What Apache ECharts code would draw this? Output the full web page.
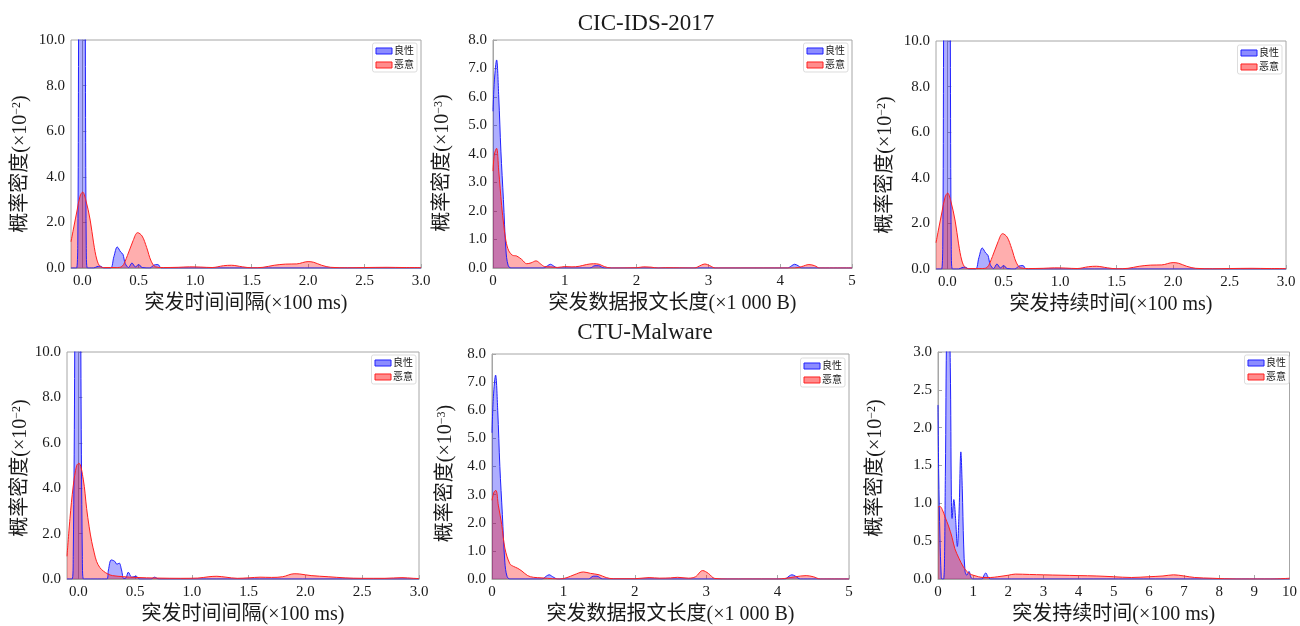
<!DOCTYPE html>
<html>
<head>
<meta charset="utf-8">
<script src="https://cdn.jsdelivr.net/npm/echarts@6/dist/echarts.min.js"></script>
<style>
  html, body { margin: 0; padding: 0; background: #fff; }
  #chart { width: 1300px; height: 626px; }
</style>
</head>
<body>
<div id="chart"></div>
<script>
// ===== 데이터 (x, 밀도) - 그림에서 읽은 값 =====

// CIC-IDS-2017 : 突发时间间隔 (×10^-2)
let cicGapBenign = [
  [-0.1, 0], [-0.06, 0], [-0.05, 0], [-0.04, 1], [-0.033, 10], [-0.02, 30], [0, 40], [0.015, 30],
  [0.027, 10], [0.035, 1], [0.045, 0], [0.1, 0], [0.13, 0.06], [0.16, 0.08], [0.19, 0], [0.25, 0],
  [0.28, 0.5], [0.31, 0.92], [0.34, 0.7], [0.36, 0.6], [0.38, 0.2], [0.41, 0.02], [0.44, 0.22],
  [0.47, 0.05], [0.5, 0.15], [0.53, 0.02], [0.6, 0], [0.63, 0.12], [0.67, 0.15], [0.7, 0], [3.0, 0]
];
let cicGapMalicious = [
  [-0.1, 1.15], [-0.075, 1.8], [-0.047, 2.5], [-0.02, 3.15], [0.003, 3.33], [0.03, 3.0], [0.07, 2.1],
  [0.1, 1.1], [0.13, 0.35], [0.16, 0.06], [0.2, 0.02], [0.3, 0.02], [0.35, 0.06], [0.4, 0.55],
  [0.45, 1.2], [0.49, 1.55], [0.53, 1.4], [0.57, 0.9], [0.61, 0.3], [0.65, 0.05], [0.72, 0.02],
  [0.85, 0.03], [0.95, 0.05], [1.05, 0.04], [1.15, 0.02], [1.25, 0.1], [1.32, 0.12], [1.42, 0.05],
  [1.5, 0.01], [1.6, 0.03], [1.7, 0.12], [1.8, 0.17], [1.9, 0.18], [2.0, 0.28], [2.05, 0.25],
  [2.12, 0.12], [2.2, 0.03], [2.35, 0.01], [2.5, 0.02], [2.7, 0.03], [2.85, 0.02], [3.0, 0.02]
];

// CIC-IDS-2017 : 突发数据报文长度 (×10^-3)
let cicLenBenign = [
  [0, 5.5], [0.02, 6.6], [0.05, 7.3], [0.08, 6.0], [0.11, 4.1], [0.145, 2.4], [0.18, 0.63],
  [0.21, 0.1], [0.25, 0], [0.7, 0], [0.76, 0.08], [0.8, 0.13], [0.85, 0.06], [0.9, 0], [1.35, 0],
  [1.42, 0.08], [1.47, 0.08], [1.55, 0], [4.1, 0], [4.16, 0.08], [4.2, 0.13], [4.25, 0.08], [4.3, 0], [5, 0]
];
let cicLenMalicious = [
  [0, 3.4], [0.02, 4.0], [0.05, 4.2], [0.08, 3.4], [0.12, 2.2], [0.15, 1.5], [0.18, 0.95], [0.22, 0.6],
  [0.27, 0.45], [0.33, 0.42], [0.4, 0.3], [0.47, 0.15], [0.53, 0.18], [0.6, 0.25], [0.66, 0.15],
  [0.72, 0.05], [0.8, 0.04], [0.9, 0.02], [1.0, 0.05], [1.1, 0.04], [1.2, 0.06], [1.3, 0.12],
  [1.4, 0.15], [1.48, 0.13], [1.55, 0.05], [1.65, 0], [2.0, 0.01], [2.1, 0.04], [2.2, 0.03], [2.3, 0],
  [2.4, 0.01], [2.8, 0], [2.9, 0.1], [2.95, 0.14], [3.02, 0.08], [3.1, 0], [4.2, 0], [4.3, 0.05],
  [4.4, 0.12], [4.48, 0.08], [4.55, 0], [5, 0]
];

// CIC-IDS-2017 : 突发持续时间 (×10^-2) - 간격 그래프와 거의 같은 모양
let cicDurBenign = cicGapBenign;
let cicDurMalicious = cicGapMalicious;

// CTU-Malware : 突发时间间隔 (×10^-2)
let ctuGapBenign = [
  [-0.1, 0], [-0.055, 0], [-0.045, 1], [-0.032, 10], [-0.02, 30], [0, 40], [0.012, 30], [0.022, 10],
  [0.035, 1], [0.045, 0], [0.25, 0], [0.265, 0.4], [0.29, 0.84], [0.32, 0.78], [0.34, 0.65],
  [0.36, 0.7], [0.38, 0.4], [0.4, 0.02], [0.42, 0.05], [0.44, 0.3], [0.47, 0.08], [0.51, 0.12],
  [0.54, 0], [0.64, 0], [0.67, 0.08], [0.71, 0], [3.0, 0]
];
let ctuGapMalicious = [
  [-0.1, 1.0], [-0.074, 2.66], [-0.045, 4.1], [-0.015, 5.0], [0.005, 5.1], [0.043, 4.4], [0.073, 3.1],
  [0.095, 2.3], [0.117, 1.66], [0.14, 1.15], [0.16, 0.78], [0.19, 0.5], [0.22, 0.35], [0.26, 0.22],
  [0.3, 0.15], [0.4, 0.1], [0.5, 0.07], [0.7, 0.04], [0.9, 0.03], [1.05, 0.04], [1.15, 0.1],
  [1.22, 0.12], [1.3, 0.08], [1.4, 0.03], [1.5, 0.05], [1.6, 0.08], [1.7, 0.07], [1.8, 0.1],
  [1.9, 0.23], [1.95, 0.22], [2.05, 0.15], [2.2, 0.1], [2.35, 0.05], [2.5, 0.03], [2.7, 0.03],
  [2.85, 0.06], [2.95, 0.03], [3.0, 0.02]
];

// CTU-Malware : 突发数据报文长度 (×10^-3)
let ctuLenBenign = [
  [0, 5.2], [0.02, 6.5], [0.05, 7.25], [0.08, 6.0], [0.11, 4.0], [0.145, 2.3], [0.18, 0.6],
  [0.21, 0.1], [0.25, 0], [0.7, 0], [0.76, 0.1], [0.8, 0.15], [0.85, 0.08], [0.92, 0], [1.35, 0],
  [1.42, 0.1], [1.47, 0.1], [1.55, 0], [4.1, 0], [4.16, 0.1], [4.2, 0.15], [4.25, 0.1], [4.32, 0], [5, 0]
];
let ctuLenMalicious = [
  [0, 2.8], [0.03, 3.1], [0.055, 3.15], [0.09, 2.6], [0.136, 1.94], [0.18, 1.1], [0.25, 0.54],
  [0.3, 0.45], [0.36, 0.38], [0.42, 0.28], [0.5, 0.12], [0.58, 0.06], [0.7, 0.04], [0.85, 0.01],
  [0.95, 0], [1.05, 0.05], [1.15, 0.15], [1.28, 0.25], [1.38, 0.2], [1.5, 0.15], [1.6, 0.05],
  [1.7, 0.01], [2.0, 0.01], [2.2, 0.05], [2.35, 0.03], [2.5, 0.04], [2.6, 0.06], [2.75, 0.03],
  [2.85, 0.08], [2.95, 0.3], [3.03, 0.2], [3.12, 0.02], [3.3, 0], [4.0, 0], [4.1, 0.02],
  [4.25, 0.08], [4.4, 0.12], [4.5, 0.08], [4.6, 0], [5, 0]
];

// CTU-Malware : 突发持续时间 (×10^-2)
let ctuDurBenign = [
  [0, 2.3], [0.02, 1.4], [0.056, 0.54], [0.09, 0.05], [0.11, 0], [0.16, 0], [0.21, 1.4], [0.25, 3.4],
  [0.3, 3.7], [0.35, 2.8], [0.38, 1.1], [0.4, 0.8], [0.45, 1.05], [0.5, 0.8], [0.55, 0.43],
  [0.6, 0.9], [0.65, 1.68], [0.69, 1.2], [0.73, 0.45], [0.77, 0.1], [0.82, 0.05], [0.88, 0.1],
  [0.94, 0.02], [1.0, 0], [1.25, 0], [1.32, 0.06], [1.36, 0.08], [1.42, 0.03], [1.5, 0], [10, 0]
];
let ctuDurMalicious = [
  [0, 0.95], [0.05, 0.96], [0.12, 0.92], [0.2, 0.82], [0.3, 0.7], [0.4, 0.55], [0.48, 0.4],
  [0.6, 0.27], [0.71, 0.17], [0.8, 0.11], [0.9, 0.07], [1.0, 0.05], [1.15, 0.03], [1.3, 0.02],
  [1.5, 0.02], [1.7, 0.03], [2.0, 0.05], [2.2, 0.065], [2.6, 0.06], [3.0, 0.055], [3.5, 0.05],
  [4.0, 0.045], [4.5, 0.04], [5.0, 0.03], [5.5, 0.02], [6.0, 0.03], [6.4, 0.04], [6.7, 0.055],
  [7.0, 0.04], [7.3, 0.02], [7.8, 0.01], [8.5, 0], [9.5, 0], [10, 0.01]
];

// 축 눈금
let gapTicks = [0, 0.5, 1.0, 1.5, 2.0, 2.5, 3.0];
let lenTicks = [0, 1, 2, 3, 4, 5];
let durTicks = [0, 1, 2, 3, 4, 5, 6, 7, 8, 9, 10];

let benignName = "良性";
let maliciousName = "恶意";

// ===== 스타일 =====
let fontSerif = "'Liberation Serif', 'Noto Sans CJK SC', serif";
let frameColor = "#a6a6a6";
let textColor = "#1a1a1a";

// 패널 배치 (그리드 위치, 축 범위, 이름, 범례 위치)
let panels = [
  { grid: [71, 40, 350, 228], x: [-0.1, 3.0], ticks: gapTicks, dec: 1, y: [0, 10, 2], exp: "−2",
    xName: "突发时间间隔(×100 ms)", yGap: 40, yShift: 20, legend: [883, 43], data: [cicGapBenign, cicGapMalicious] },
  { grid: [493, 40, 359, 228], x: [0, 5], ticks: lenTicks, dec: 0, y: [0, 8, 1], exp: "−3",
    xName: "突发数据报文长度(×1 000 B)", yGap: 40, yShift: 18, legend: [452, 43], data: [cicLenBenign, cicLenMalicious] },
  { grid: [936, 41, 350, 228], x: [-0.1, 3.0], ticks: gapTicks, dec: 1, y: [0, 10, 2], exp: "−2",
    xName: "突发持续时间(×100 ms)", yGap: 40, yShift: 20, legend: [18, 45], data: [cicDurBenign, cicDurMalicious] },
  { grid: [67, 352, 352, 229], x: [-0.1, 3.0], ticks: gapTicks, dec: 1, y: [0, 10, 2], exp: "−2",
    xName: "突发时间间隔(×100 ms)", yGap: 36, yShift: 5, legend: [884, 355], data: [ctuGapBenign, ctuGapMalicious] },
  { grid: [492, 354, 357, 228], x: [0, 5], ticks: lenTicks, dec: 0, y: [0, 8, 1], exp: "−3",
    xName: "突发数据报文长度(×1 000 B)", yGap: 36, yShift: 14, legend: [455, 358], data: [ctuLenBenign, ctuLenMalicious] },
  { grid: [938, 352, 355, 229], x: [0, 10], ticks: durTicks, dec: 0, y: [0, 3, 0.5], exp: "−2",
    xName: "突发持续时间(×100 ms)", yGap: 52, yShift: 5, legend: [11, 355], data: [ctuDurBenign, ctuDurMalicious] }
];

let grids = [], xAxes = [], yAxes = [], legends = [], seriesList = [];

panels.forEach(function (p, i) {
  grids.push({
    left: p.grid[0], top: p.grid[1], width: p.grid[2], height: p.grid[3],
    show: true, borderColor: frameColor, borderWidth: 1, backgroundColor: "#fff"
  });

  xAxes.push({
    gridIndex: i, type: "value", min: p.x[0], max: p.x[1],
    name: p.xName, nameLocation: "middle", nameGap: 26,
    nameTextStyle: { fontFamily: fontSerif, fontSize: 20, color: textColor },
    axisLine: { show: true, onZero: false, lineStyle: { color: frameColor } },
    axisTick: { show: true, inside: true, length: 4, customValues: p.ticks, lineStyle: { color: frameColor } },
    axisLabel: {
      customValues: p.ticks, margin: 6, fontFamily: fontSerif, fontSize: 15, color: textColor,
      formatter: function (v) { return v.toFixed(p.dec); }
    },
    splitLine: { show: false }
  });

  // 세로 제목은 그림처럼 약간 아래로 (오른쪽 padding = 회전 후 위쪽)
  yAxes.push({
    gridIndex: i, type: "value", min: p.y[0], max: p.y[1], interval: p.y[2],
    name: "概率密度(×10{sup|" + p.exp + "})", nameLocation: "middle", nameGap: p.yGap, nameRotate: 90,
    nameTextStyle: {
      fontFamily: fontSerif, fontSize: 20, color: textColor, padding: [0, p.yShift, 0, 0],
      rich: { sup: { fontFamily: fontSerif, fontSize: 12, color: textColor, verticalAlign: "top" } }
    },
    axisLine: { show: true, lineStyle: { color: frameColor } },
    axisTick: { show: true, inside: true, length: 4, lineStyle: { color: frameColor } },
    axisLabel: {
      margin: 6, fontFamily: fontSerif, fontSize: 15, color: textColor,
      formatter: function (v) { return v.toFixed(1); }
    },
    splitLine: { show: false }
  });

  legends.push({
    right: p.legend[0], top: p.legend[1], orient: "vertical",
    itemWidth: 16, itemHeight: 6, itemGap: 4, padding: [3, 3, 2, 3],
    borderColor: "#dddddd", borderWidth: 1, borderRadius: 2, backgroundColor: "#fff",
    selectedMode: false,
    textStyle: { fontFamily: fontSerif, fontSize: 10, color: textColor, padding: [0, 0, 0, -3] },
    data: [
      { name: benignName, icon: "rect", itemStyle: { color: "rgba(0,0,255,0.45)", borderColor: "#2020ff", borderWidth: 1 } },
      { name: maliciousName, icon: "rect", itemStyle: { color: "rgba(255,0,0,0.45)", borderColor: "#ff2020", borderWidth: 1 } }
    ]
  });

  // 양성 먼저, 악성을 위에 겹쳐 그림
  seriesList.push({
    name: benignName, type: "line", xAxisIndex: i, yAxisIndex: i, data: p.data[0],
    symbol: "none", smooth: 0.35, clip: true, silent: true,
    color: "#2020ff",
    lineStyle: { color: "#2020ff", width: 1 },
    areaStyle: { color: "rgba(0,0,255,0.45)" }
  });
  seriesList.push({
    name: maliciousName, type: "line", xAxisIndex: i, yAxisIndex: i, data: p.data[1],
    symbol: "none", smooth: 0.35, clip: true, silent: true,
    color: "#ff2020",
    lineStyle: { color: "#ff2020", width: 1 },
    areaStyle: { color: "rgba(255,0,0,0.45)" }
  });
});

let chart = echarts.init(document.getElementById("chart"));

chart.setOption({
  backgroundColor: "#fff",
  animation: false,
  graphic: [
    { type: "text", x: 646, y: 24, style: { text: "CIC-IDS-2017", font: "23px " + fontSerif, fill: textColor, textAlign: "center", textVerticalAlign: "middle" } },
    { type: "text", x: 645, y: 333, style: { text: "CTU-Malware", font: "23px " + fontSerif, fill: textColor, textAlign: "center", textVerticalAlign: "middle" } }
  ],
  grid: grids,
  xAxis: xAxes,
  yAxis: yAxes,
  legend: legends,
  series: seriesList
});
</script>
</body>
</html>
